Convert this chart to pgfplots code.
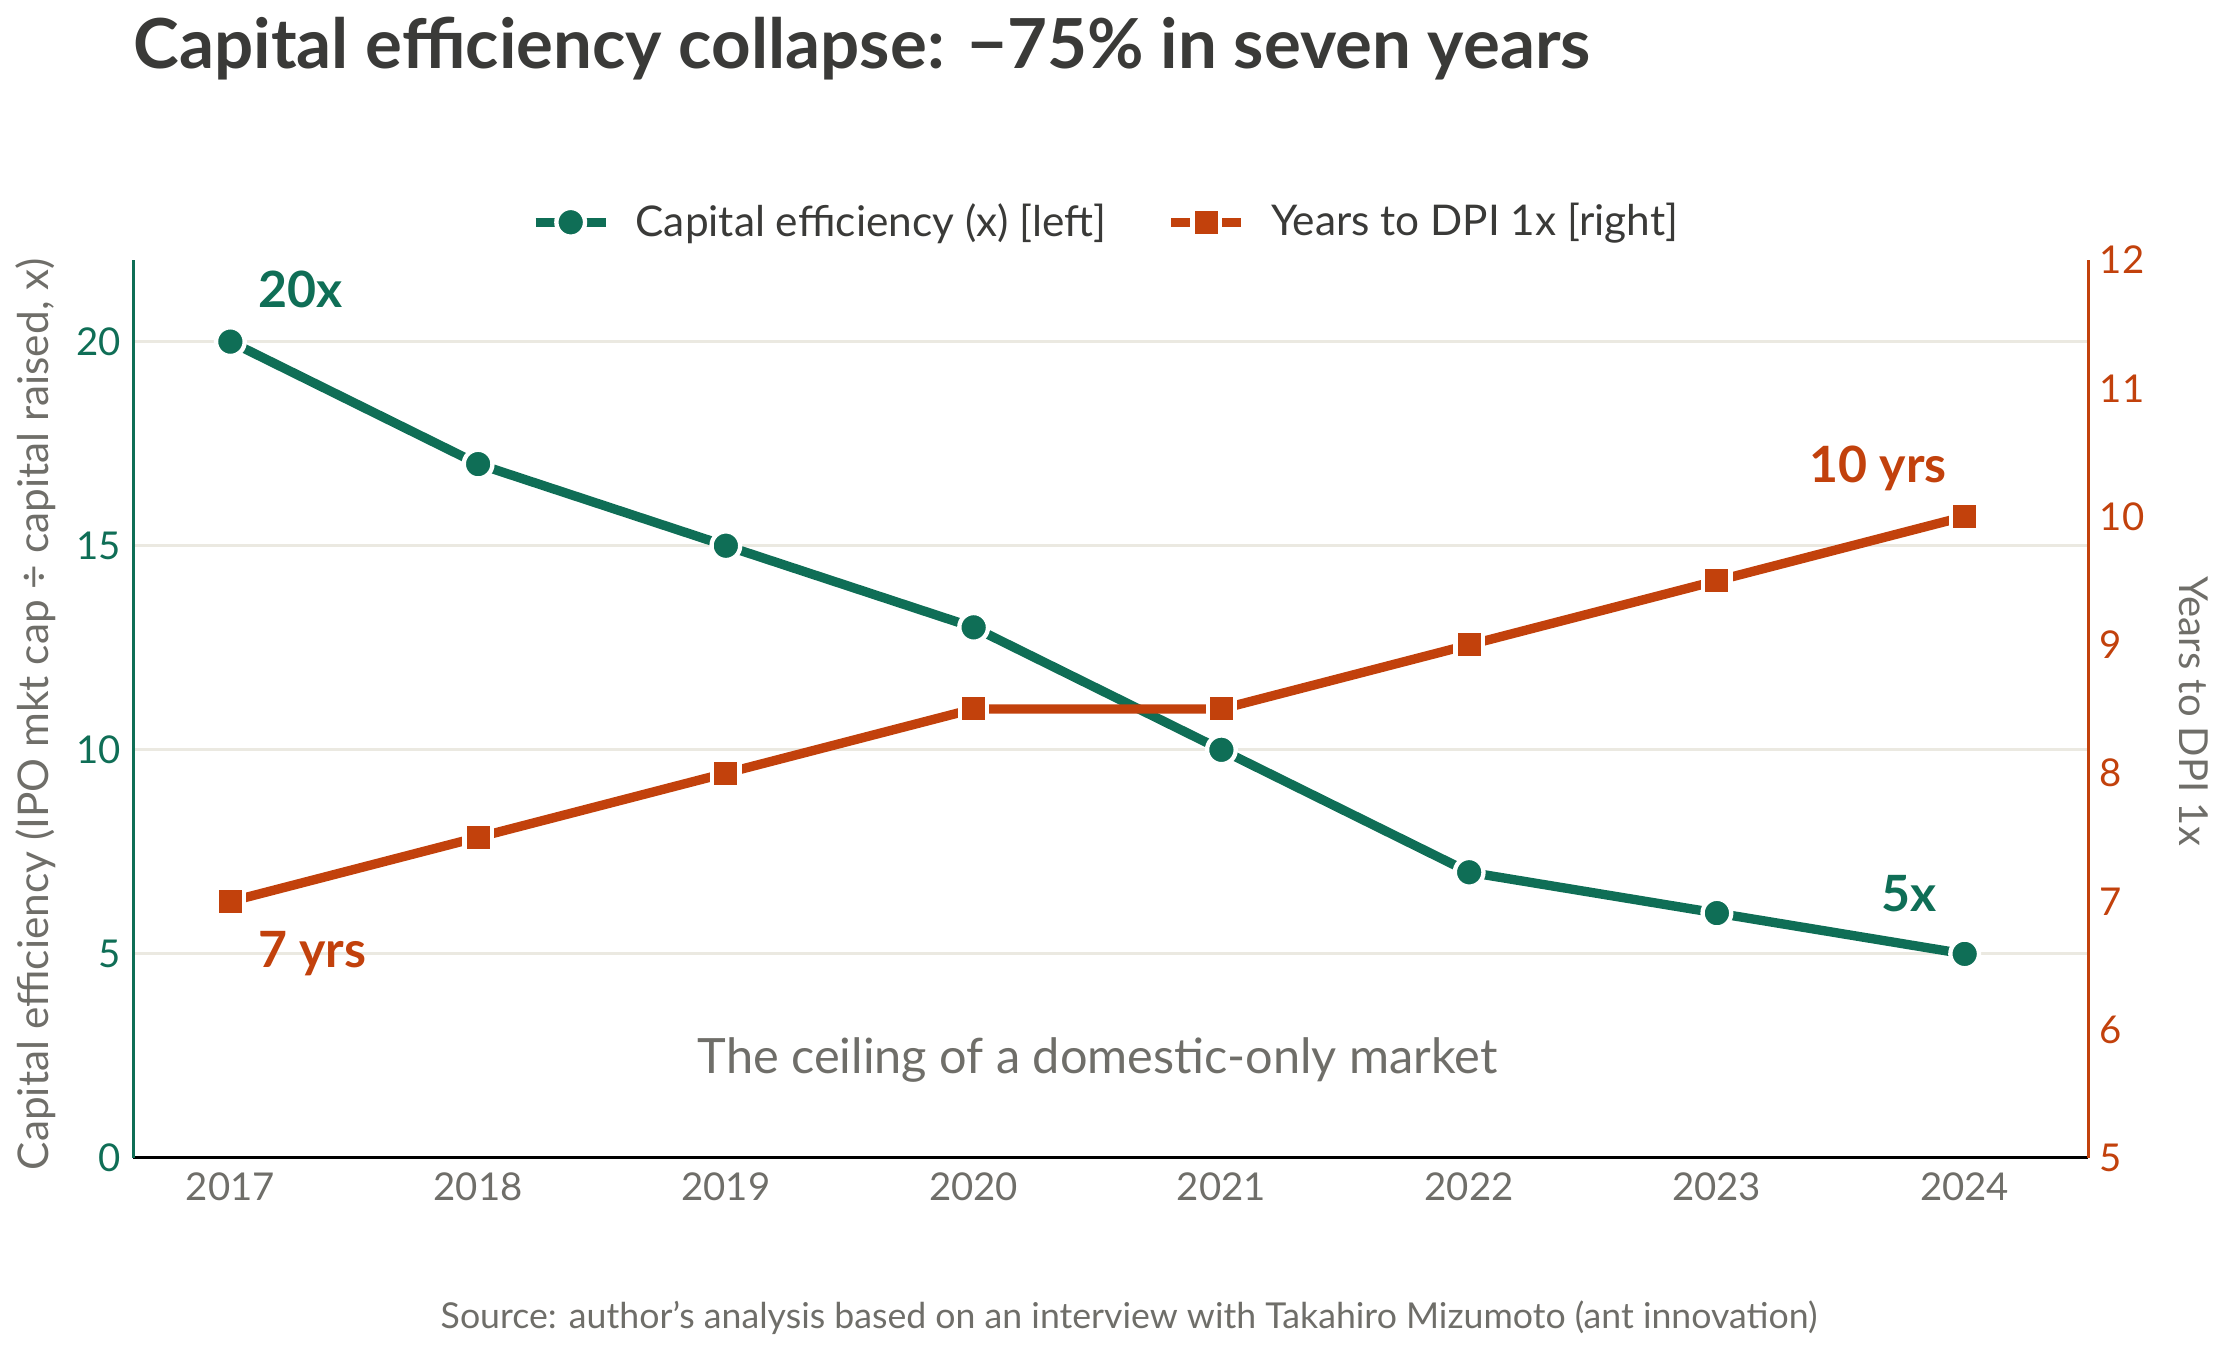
\documentclass[border=0pt]{standalone}
\usepackage{pgfplots}
\pgfplotsset{compat=1.18}
\usepackage{fontspec}
\setmainfont{Lato}
\definecolor{cgreen}{HTML}{0F6E56}
\definecolor{corange}{HTML}{C2410C}
\definecolor{tgray}{HTML}{6F6E69}
\definecolor{tdark}{HTML}{3A3A38}
\definecolor{gridc}{HTML}{EBE9E1}
\begin{document}
\begin{tikzpicture}
\path[use as bounding box] (0,0) rectangle (668.7pt,406.8pt);
\begin{axis}[
  at={(39.9pt,59.4pt)}, anchor=south west, scale only axis,
  width=586.5pt, height=269.4pt,
  xmin=2016.607, xmax=2024.498, ymin=0, ymax=22,
  axis x line*=bottom, axis y line*=left,
  x axis line style={black, line width=0.9pt, -},
  y axis line style={cgreen, line width=0.9pt, -},
  xtick={2017,...,2024}, ytick={0,5,10,15,20},
  xticklabel={\pgfmathprintnumber[/pgf/number format/1000 sep={}]{\tick}},
  major tick length=0pt,
  xticklabel style={text=tgray, font=\fontsize{11.5}{13}\selectfont, yshift=-1pt},
  yticklabel style={text=cgreen, font=\fontsize{11.5}{13}\selectfont},
  /pgf/number format/assume math mode=true,
  ymajorgrids, grid style={gridc, line width=0.9pt},
  clip=false,
]
\addplot[cgreen, line width=2.8pt, mark=*, mark size=4.3pt,
  mark options={fill=cgreen, draw=white, line width=1.3pt}]
  coordinates {(2017,20) (2018,17) (2019,15) (2020,13) (2021,10) (2022,7) (2023,6) (2024,5)};
\node[inner sep=0pt, anchor=base west, text=cgreen, font=\bfseries\fontsize{15}{17}\selectfont] at (axis cs:2017.11,20.84) {20x};
\node[inner sep=0pt, anchor=base east, text=cgreen, font=\bfseries\fontsize{15}{17}\selectfont] at (axis cs:2023.89,6.03) {5x};
\node[inner sep=0pt, anchor=base east, text=corange, font=\bfseries\fontsize{15}{17}\selectfont] at (axis cs:2023.93,16.55) {10 yrs};
\node[inner sep=0pt, anchor=base west, text=corange, font=\bfseries\fontsize{15}{17}\selectfont] at (axis cs:2017.11,4.67) {7 yrs};
\node[anchor=center, text=tgray, font=\fontsize{14.6}{17}\selectfont] at (axis cs:2020.5,2.4) {The ceiling of a domestic-only market};
\end{axis}
\begin{axis}[
  at={(39.9pt,59.4pt)}, anchor=south west, scale only axis,
  width=586.5pt, height=269.4pt,
  xmin=2016.607, xmax=2024.498, ymin=5, ymax=12,
  axis x line=none, axis y line*=right,
  y axis line style={corange, line width=0.9pt, -},
  ytick={5,...,12},
  major tick length=0pt,
  yticklabel style={text=corange, font=\fontsize{11.5}{13}\selectfont},
  /pgf/number format/assume math mode=true,
  legend style={draw=none, fill=none, at={(0.4987,1.042)}, anchor=center,
    font=\fontsize{12.7}{15}\selectfont, text=tdark,
    /tikz/every odd column/.append style={column sep=5.6pt},
    /tikz/every even column/.append style={column sep=16pt}},
  legend columns=2,
  legend image code/.code={
    \draw[mark repeat=2,mark phase=2,#1] plot coordinates {(0pt,0pt) (10.5pt,0pt) (21pt,0pt)};},
  clip=false,
]
\addlegendimage{cgreen, line width=2.8pt, mark=*, mark size=4.3pt, mark options={fill=cgreen, draw=white, line width=1.3pt}}
\addlegendentry{Capital efficiency (x) [left]}
\addplot[corange, line width=2.8pt, mark=square*, mark size=4.1pt,
  mark options={fill=corange, draw=white, line width=1.3pt}]
  coordinates {(2017,7) (2018,7.5) (2019,8) (2020,8.5) (2021,8.5) (2022,9) (2023,9.5) (2024,10)};
\addlegendentry{Years to DPI 1x [right]}
\end{axis}
\node[inner sep=0pt, anchor=base west, text=tdark, font=\bfseries\fontsize{20.7}{24}\selectfont] at (39.9pt,386.1pt) {Capital efficiency collapse: −75\% in seven years};
\node[rotate=90, text=tgray, font=\fontsize{12.7}{15}\selectfont] at (10.7pt,192.5pt) {Capital efficiency (IPO mkt cap ÷ capital raised, x)};
\node[rotate=-90, text=tgray, font=\fontsize{12}{14}\selectfont] at (658.1pt,193.5pt) {Years to DPI 1x};
\node[text=tgray, font=\fontsize{10.7}{13}\selectfont] at (338.7pt,11.4pt) {Source: author’s analysis based on an interview with Takahiro Mizumoto (ant innovation)};
\end{tikzpicture}
\end{document}
